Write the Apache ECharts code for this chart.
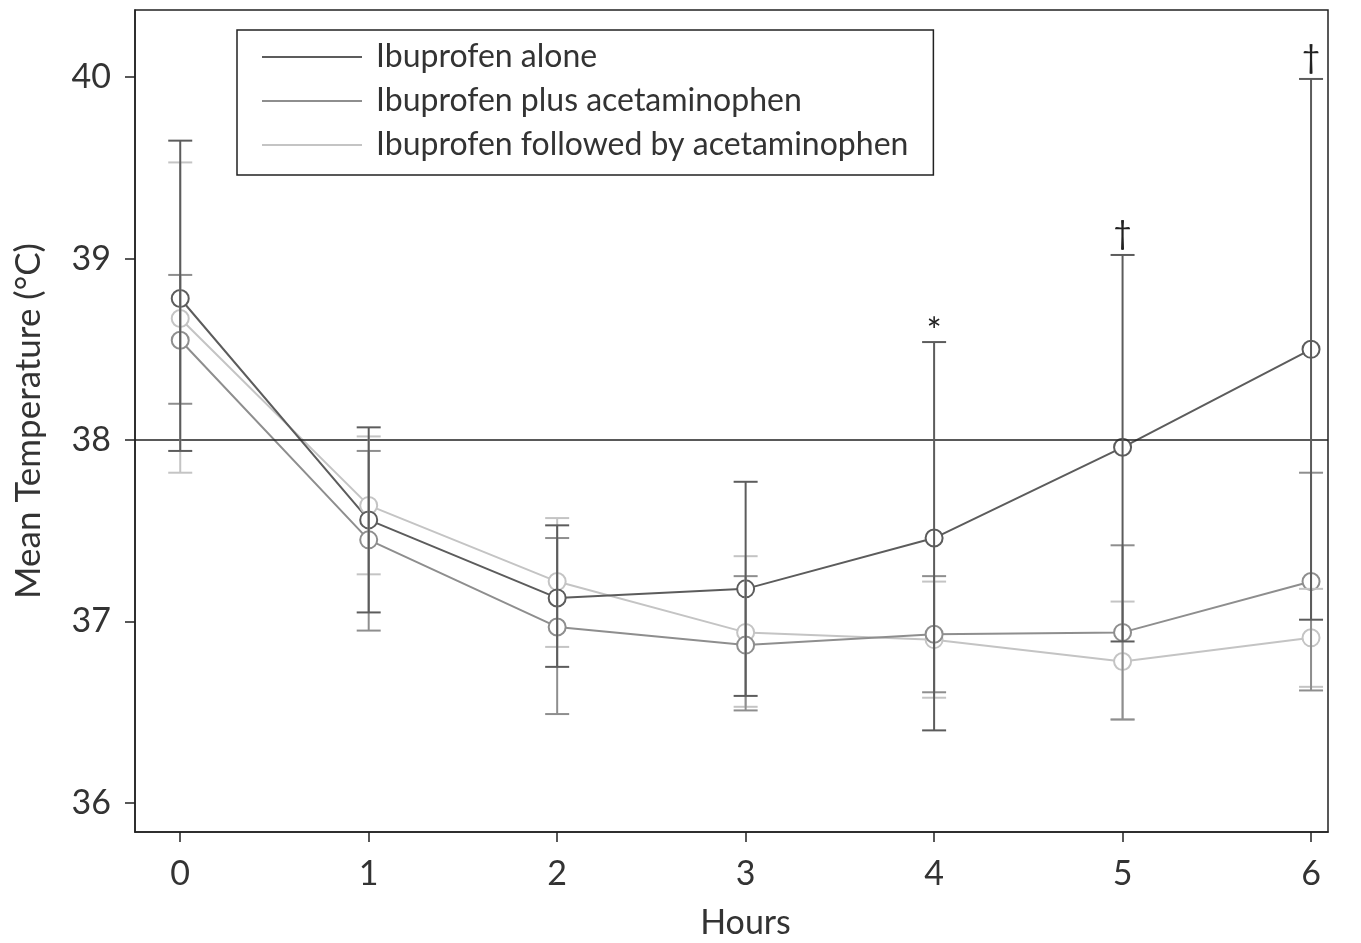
<!DOCTYPE html>
<html><head><meta charset="utf-8">
<script src="https://cdn.jsdelivr.net/npm/echarts@6/dist/echarts.min.js"></script>
<style>html,body{margin:0;padding:0;background:#fff}#c{width:1361px;height:943px}</style>
</head><body><div id="c"></div>
<script>
const hours = [0, 1, 2, 3, 4, 5, 6];
const xTicks = [0, 1, 2, 3, 4, 5, 6];
const yTicks = [36, 37, 38, 39, 40];
const seriesNames = ['Ibuprofen alone', 'Ibuprofen plus acetaminophen', 'Ibuprofen followed by acetaminophen'];

const aloneMean = [38.78, 37.56, 37.13, 37.18, 37.46, 37.96, 38.50];
const aloneLow  = [37.94, 37.05, 36.75, 36.59, 36.40, 36.89, 37.01];
const aloneHigh = [39.65, 38.07, 37.53, 37.77, 38.54, 39.02, 39.99];

const plusMean = [38.55, 37.45, 36.97, 36.87, 36.93, 36.94, 37.22];
const plusLow  = [38.20, 36.95, 36.49, 36.51, 36.61, 36.46, 36.62];
const plusHigh = [38.91, 37.94, 37.46, 37.25, 37.25, 37.42, 37.82];

const followMean = [38.67, 37.64, 37.22, 36.94, 36.90, 36.78, 36.91];
const followLow  = [37.82, 37.26, 36.86, 36.53, 36.58, 36.46, 36.64];
const followHigh = [39.53, 38.02, 37.57, 37.36, 37.22, 37.11, 37.18];

const annotations = ['', '', '', '', '*', '\u2020', '\u2020'];
const threshold = 38;

const colors = ['#5c5c5c', '#8e8e8e', '#c4c4c4'];
const FONT = 'Lato, "Open Sans", sans-serif';

function lineSeries(name, mean, color, extra) {
  return Object.assign({
    type: 'line', name: name, z: 3,
    data: hours.map((h, i) => [h, mean[i]]),
    symbol: 'circle', symbolSize: 17,
    lineStyle: { color: color, width: 2 },
    itemStyle: { color: '#fff', borderColor: color, borderWidth: 2 },
    emphasis: { disabled: true },
    animation: false
  }, extra || {});
}

function errorSeries(name, low, high, color, notes, z) {
  return {
    type: 'custom', name: name, z: z,
    data: hours.map((h, i) => [h, low[i], high[i]]),
    encode: { x: 0, y: [1, 2] },
    animation: false,
    renderItem: function (params, api) {
      const x = api.value(0);
      const lo = api.coord([x, api.value(1)]);
      const hi = api.coord([x, api.value(2)]);
      const hw = 12;
      const st = { stroke: color, lineWidth: 2, fill: null };
      const children = [
        { type: 'line', shape: { x1: lo[0], y1: lo[1], x2: hi[0], y2: hi[1] }, style: st },
        { type: 'line', shape: { x1: lo[0] - hw, y1: lo[1], x2: lo[0] + hw, y2: lo[1] }, style: st },
        { type: 'line', shape: { x1: hi[0] - hw, y1: hi[1], x2: hi[0] + hw, y2: hi[1] }, style: st }
      ];
      const note = notes ? notes[params.dataIndex] : '';
      if (note) {
        const isStar = note === '*';
        children.push({
          type: 'text', x: hi[0], y: hi[1] - (isStar ? -8 : 5),
          style: { text: note, align: 'center', verticalAlign: 'bottom', fontSize: isStar ? 36 : 32, fontFamily: FONT, fill: '#222' }
        });
      }
      return { type: 'group', children: children };
    }
  };
}

const chart = echarts.init(document.getElementById('c'), null, { renderer: 'canvas' });
chart.setOption({
  backgroundColor: '#fff',
  animation: false,
  textStyle: { fontFamily: FONT },
  grid: { left: 135, right: 33, top: 10, bottom: 111, outerBoundsMode: 'none', containLabel: false, show: true, borderColor: '#222', borderWidth: 1.5, backgroundColor: 'transparent' },
  legend: {
    orient: 'vertical', left: 237, top: 30,
    backgroundColor: '#fff', borderColor: '#222', borderWidth: 1.5,
    padding: [11, 25, 14, 25], itemGap: 12,
    itemWidth: 100, itemHeight: 2, icon: 'rect',
    textStyle: { fontSize: 32, lineHeight: 32, color: '#333', fontFamily: FONT, padding: [0, 0, 0, 9] },
    selectedMode: false,
    data: seriesNames.map((n, i) => ({ name: n, itemStyle: { color: colors[i], borderWidth: 0 } }))
  },
  xAxis: {
    type: 'value', min: -0.24, max: 6.09,
    name: 'Hours', nameLocation: 'middle', nameGap: 74,
    nameTextStyle: { fontSize: 34, color: '#333', fontFamily: FONT, padding: [0, 0, 0, 28] },
    axisLine: { show: true, onZero: false, lineStyle: { color: '#222', width: 1.5 } },
    axisTick: { show: true, length: 10, customValues: xTicks, lineStyle: { color: '#222', width: 1.5 } },
    axisLabel: { customValues: xTicks, fontSize: 34, color: '#333', margin: 25, fontFamily: FONT },
    splitLine: { show: false }
  },
  yAxis: {
    type: 'value', min: 35.84, max: 40.37,
    name: 'Mean Temperature (\u00B0C)', nameLocation: 'middle', nameGap: 89,
    nameTextStyle: { fontSize: 35, color: '#333', fontFamily: FONT },
    axisLine: { show: true, onZero: false, lineStyle: { color: '#222', width: 1.5 } },
    axisTick: { show: true, length: 10, customValues: yTicks, lineStyle: { color: '#222', width: 1.5 } },
    axisLabel: { customValues: yTicks, fontSize: 34, color: '#333', margin: 24, fontFamily: FONT },
    splitLine: { show: false }
  },
  series: [
    lineSeries(seriesNames[2], followMean, colors[2]),
    lineSeries(seriesNames[1], plusMean, colors[1]),
    lineSeries(seriesNames[0], aloneMean, colors[0], {
      markLine: {
        silent: true, symbol: 'none', label: { show: false },
        lineStyle: { color: '#222', width: 1.5, type: 'solid' },
        data: [{ yAxis: threshold }]
      }
    }),
    errorSeries(seriesNames[2], followLow, followHigh, colors[2], null, 6),
    errorSeries(seriesNames[1], plusLow, plusHigh, colors[1], null, 7),
    errorSeries(seriesNames[0], aloneLow, aloneHigh, colors[0], annotations, 8)
  ]
});
</script></body></html>
